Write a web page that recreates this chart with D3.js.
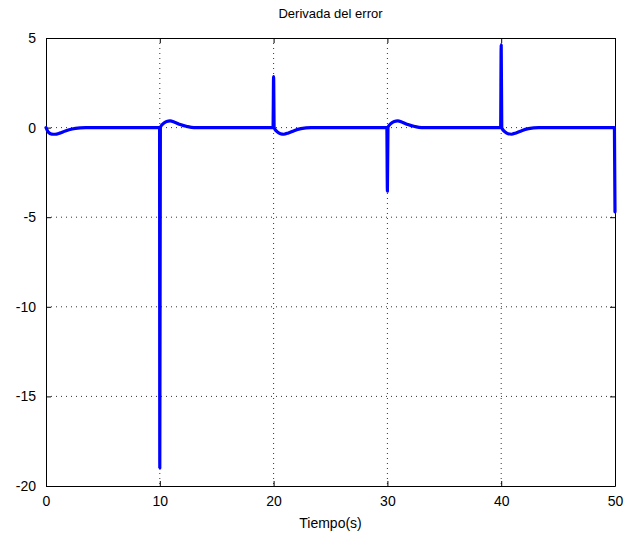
<!DOCTYPE html>
<html>
<head>
<meta charset="utf-8">
<script src="https://cdn.jsdelivr.net/npm/d3@7"></script>
<style>
body{margin:0;background:#fff;}
text{font-family:"Liberation Sans",Arial,sans-serif;fill:#000;}
</style>
</head>
<body>
<svg id="chart" width="624" height="538"></svg>
<script>
const title = "Derivada del error";
const xLabel = "Tiempo(s)";
const xTicks = [0, 10, 20, 30, 40, 50];
const yTicks = [5, 0, -5, -10, -15, -20];
const time = [0, 0.2, 0.5, 0.8, 1.2, 1.7, 2.3, 3.0, 3.5,
  9.98, 10.0, 10.05, 10.3, 10.6, 10.9, 11.3, 11.8, 12.4, 13.0,
  19.95, 20.0, 20.05, 20.3, 20.6, 20.9, 21.3, 21.8, 22.4, 23.3,
  29.95, 30.0, 30.05, 30.3, 30.6, 30.9, 31.3, 31.8, 32.4, 33.0,
  39.95, 40.0, 40.05, 40.3, 40.6, 40.9, 41.3, 41.8, 42.4, 43.3,
  49.95, 50.0];
const errorDeriv = [0, -0.25, -0.36, -0.37, -0.31, -0.19, -0.08, -0.02, 0,
  0, -19.0, 0.02, 0.22, 0.34, 0.37, 0.3, 0.17, 0.06, 0,
  0, 2.85, -0.02, -0.22, -0.34, -0.37, -0.3, -0.17, -0.06, 0,
  0, -3.55, 0.02, 0.22, 0.34, 0.37, 0.3, 0.17, 0.06, 0,
  0, 4.6, -0.02, -0.22, -0.34, -0.37, -0.3, -0.17, -0.06, 0,
  0, -4.7];

const m = {left: 46, top: 38, right: 615, bottom: 486};
const svg = d3.select("#chart");
const x = d3.scaleLinear().domain([0, 50]).range([m.left, m.right]);
const y = d3.scaleLinear().domain([-20, 5]).range([m.bottom, m.top]);

// grid
const grid = svg.append("g");
grid.selectAll("line.gx").data(xTicks.filter(d => d > 0 && d < 50)).join("line")
  .attr("x1", d => x(d)).attr("x2", d => x(d)).attr("y1", m.top).attr("y2", m.bottom)
  .attr("stroke", "#000").attr("stroke-width", 1).attr("stroke-dasharray", "1,4").attr("opacity", 0.8);
grid.selectAll("line.gy").data(yTicks.filter(d => d > -20 && d < 5)).join("line")
  .attr("y1", d => y(d)).attr("y2", d => y(d)).attr("x1", m.left).attr("x2", m.right)
  .attr("stroke", "#000").attr("stroke-width", 1).attr("stroke-dasharray", "1,4").attr("opacity", 0.8);

const fmt = d => String(d);
// axes
const xAxis = svg.append("g").attr("transform", `translate(0,${m.bottom})`)
  .call(d3.axisBottom(x).tickValues(xTicks).tickSizeInner(-5).tickSizeOuter(0).tickPadding(10).tickFormat(fmt));
const xAxisTop = svg.append("g").attr("transform", `translate(0,${m.top})`)
  .call(d3.axisTop(x).tickValues(xTicks).tickSizeInner(-5).tickSizeOuter(0).tickFormat(""));
const yAxis = svg.append("g").attr("transform", `translate(${m.left},0)`)
  .call(d3.axisLeft(y).tickValues(yTicks).tickSizeInner(-5).tickSizeOuter(0).tickPadding(10).tickFormat(fmt));
const yAxisRight = svg.append("g").attr("transform", `translate(${m.right},0)`)
  .call(d3.axisRight(y).tickValues(yTicks).tickSizeInner(-5).tickSizeOuter(0).tickFormat(""));
[xAxis, xAxisTop, yAxis, yAxisRight].forEach(g => {
  g.select(".domain").attr("stroke", "#000").attr("stroke-width", 1);
  g.selectAll(".tick line").attr("stroke", "#000");
  g.selectAll("text").style("font-family", '"Liberation Sans",Arial,sans-serif').style("font-size", "14px").attr("fill", "#000");
});
xAxis.selectAll("text").attr("dy", "0.71em");

// line
const pts = time.map((t, i) => [t, errorDeriv[i]]);
svg.append("path").datum(pts)
  .attr("fill", "none").attr("stroke", "#0000ff").attr("stroke-width", 3.2)
  .attr("stroke-linejoin", "round").attr("stroke-linecap", "round")
  .attr("d", d3.line().x(d => x(d[0])).y(d => y(d[1])).curve(d3.curveMonotoneX));

// title & labels
svg.append("text").attr("x", (m.left + m.right) / 2).attr("y", 18).attr("text-anchor", "middle")
  .style("font-size", "13px").text(title);
svg.append("text").attr("x", (m.left + m.right) / 2).attr("y", 528).attr("text-anchor", "middle")
  .style("font-size", "14px").text(xLabel);
</script>
</body>
</html>
